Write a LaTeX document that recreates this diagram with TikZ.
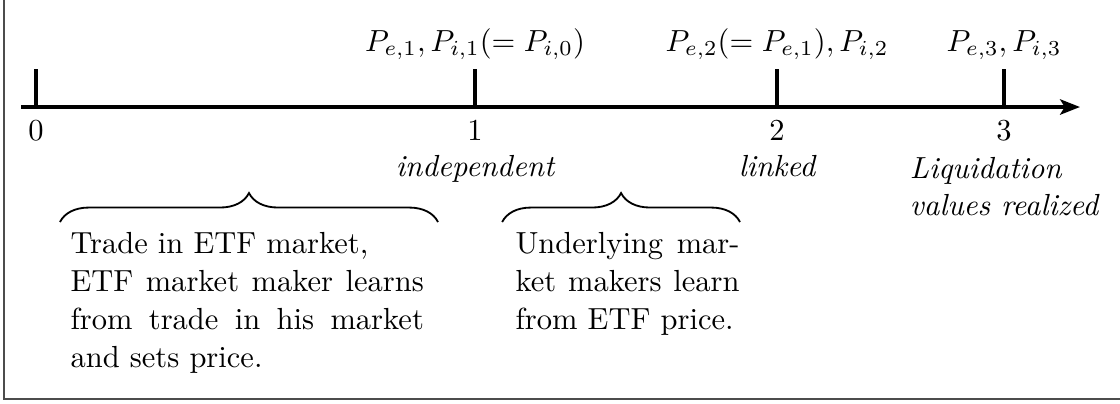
\documentclass[tikz,border=0pt]{standalone}
\usetikzlibrary{arrows.meta, positioning, calc, decorations.pathreplacing}
\tikzset{
  timeline/.style={-{Stealth[length=6.5pt, width=5pt, inset=1.5pt]}, line width=1.3pt},
  tmark/.style={line width=1.2pt},
  lbl/.style={anchor=base, inner sep=0pt},
  brc/.style={decorate, decoration={brace, amplitude=9.5pt}, semithick},
  note/.style={anchor=north west, inner sep=0pt, text width=#1, align=justify,
               font=\fontsize{10}{12.5}\selectfont},
  note/.default=4cm,
}

\begin{document}
\begin{tikzpicture}
  \useasboundingbox (0,0) rectangle (12.903,4.643);
  \draw[black!70, line width=0.4pt] (0.046,0.046) rectangle (13.3,5.0);

  % time axis
  \coordinate (start) at (0.242,3.410);
  \coordinate (end)   at (12.442,3.410);
  \draw[timeline] (start) -- (end);

  % dates
  \coordinate (t0) at (0.415,3.410);
  \coordinate (t1) at (5.472,3.410);
  \coordinate (t2) at (8.952,3.410);
  \coordinate (t3) at (11.567,3.410);
  \coordinate (t0top) at (0.415,3.848);
  \coordinate (t1top) at (5.472,3.848);
  \coordinate (t2top) at (8.952,3.848);
  \coordinate (t3top) at (11.567,3.848);
  \draw[tmark] (t0) -- (t0top);
  \draw[tmark] (t1) -- (t1top);
  \draw[tmark] (t2) -- (t2top);
  \draw[tmark] (t3) -- (t3top);

  \node[lbl] (n0) at ($(t0)+(0,-0.38)$) {0};
  \node[lbl] (n1) at ($(t1)+(0,-0.38)$) {1};
  \node[lbl] (n2) at ($(t2)+(0,-0.38)$) {2};
  \node[lbl] (n3) at ($(t3)+(0,-0.38)$) {3};

  % prices
  \node[lbl] (p1) at ($(t1top)+(0,0.205)$) {$P_{e,1}, P_{i,1}(=P_{i,0})$};
  \node[lbl] (p2) at ($(t2top)+(0,0.205)$) {$P_{e,2}(=P_{e,1}), P_{i,2}$};
  \node[lbl] (p3) at ($(t3top)+(0,0.205)$) {$P_{e,3}, P_{i,3}$};

  % regimes
  \node[lbl, font=\itshape] (ind) at ($(t1)+(0,-0.806)$) {independent};
  \node[lbl, font=\itshape] (lnk) at ($(t2)+(0,-0.806)$) {linked};
  \node[anchor=north, inner sep=0pt, align=left, font=\itshape] (liq)
    at ($(t3)+(0,-0.575)$) {Liquidation\\values realized};

  % periods
  \coordinate (b1l) at (0.691,2.085);
  \coordinate (b1r) at (5.046,2.085);
  \coordinate (b2l) at (5.785,2.085);
  \coordinate (b2r) at (8.525,2.085);
  \draw[brc] (b1l) -- (b1r);
  \draw[brc] (b2l) -- (b2r);

  \node[note=4.07cm] (etf) at (0.806,1.975)
    {Trade in ETF market,\\ ETF market maker learns from trade in his market and sets price.};
  \node[note=2.58cm] (und) at (5.933,1.975)
    {Underlying market makers learn from ETF price.};
\end{tikzpicture}
\end{document}
